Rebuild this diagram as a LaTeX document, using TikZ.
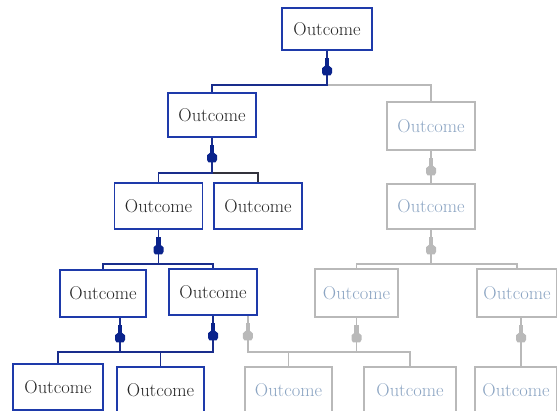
\documentclass[tikz,border=0pt]{standalone}
\usetikzlibrary{calc}

\definecolor{boxblue}{RGB}{30,58,170}
\definecolor{lineblue}{RGB}{25,45,140}
\definecolor{plugblue}{RGB}{10,35,140}
\definecolor{offgray}{RGB}{185,185,185}
\definecolor{offtext}{RGB}{140,165,195}
\definecolor{darkline}{RGB}{50,50,60}

\tikzset{
  outc/.style={draw=boxblue, line width=1.7pt, fill=white, inner sep=0pt,
    minimum width=88pt, minimum height=46pt,
    font=\fontsize{18.5}{22}\selectfont, text=black!85},
  outcoff/.style={outc, draw=offgray, text=offtext},
  link/.style={lineblue, line width=1.6pt},
  linkoff/.style={offgray, line width=1.6pt},
  plug/.pic={
    \fill (-2.2,7) rectangle (2.2,15.5);
    \fill (-2.2,15) -- (-5,17.5) -- (-5,22) -- (-3.5,24.5) -- (3.5,24.5) -- (5,22) -- (5,17.5) -- (2.2,15) -- cycle;
  }
}

\begin{document}
\begin{tikzpicture}[x=1pt, y=-1pt]
  \useasboundingbox (0,0) rectangle (557,410);
  \clip (0,0) rectangle (557,410);

  % 段の高さ (横線)
  \coordinate (y1) at (0,85);
  \coordinate (y2) at (0,173);
  \coordinate (y3) at (0,264);
  \coordinate (y4) at (0,352);

  % 有効な Outcome (青)
  \node[outc, minimum width=90pt, minimum height=42pt] (A) at (327,29) {Outcome};
  \node[outc, minimum height=44pt] (B) at (212,115) {Outcome};
  \node[outc] (C) at (158.5,206) {Outcome};
  \node[outc] (D) at (258,206) {Outcome};
  \node[outc, minimum width=86pt, minimum height=47pt] (E) at (103,293.5) {Outcome};
  \node[outc] (F) at (213,292) {Outcome};
  \node[outc, minimum width=90pt] (G) at (58,387) {Outcome};
  \node[outc, minimum width=87pt] (H) at (160.5,390) {Outcome};

  % 無効な Outcome (灰色)
  \node[outcoff, minimum height=48pt] (I) at (431,126) {Outcome};
  \node[outcoff, minimum height=45pt] (J) at (431,206.5) {Outcome};
  \node[outcoff, minimum width=83pt, minimum height=48pt] (K) at (356.5,293) {Outcome};
  \node[outcoff, minimum width=80pt, minimum height=48pt] (L) at (517,293) {Outcome};
  \node[outcoff, minimum width=87pt] (M) at (288.5,390) {Outcome};
  \node[outcoff, minimum width=92pt] (N) at (410,390) {Outcome};
  \node[outcoff, minimum width=82pt] (O) at (516,390) {Outcome};

  % 枝の始点
  \coordinate (Es) at ($(E.south)+(17,0)$);
  \coordinate (Fs) at ($(F.south east)+(-10,0)$);
  \coordinate (Ls) at ($(L.south)+(4,0)$);

  % A の下
  \draw[linkoff] (A.south |- y1) -| (I.north);
  \draw[link] (A.south) |- (B.north |- y1) -- (B.north);

  % B の下
  \draw[darkline, line width=1.6pt] (B.south |- y2) -| (D.north);
  \draw[link] (B.south) |- (C.north |- y2) -- (C.north);

  % I, J の下
  \draw[linkoff] (I.south) -- (J.north);
  \draw[linkoff] (J.south) |- (K.north |- y3) -- (K.north);
  \draw[linkoff] (J.south |- y3) -| (L.north);

  % C の下
  \draw[link] (C.south) |- (E.north |- y3) -- (E.north);
  \draw[link] (C.south |- y3) -| (F.north);

  % E, F の下
  \draw[link] (Es) |- (G.north |- y4) -- (G.north);
  \draw[link] (F.south) |- (G.north |- y4);
  \draw[link] (H.north |- y4) -- (H.north);

  % F, K の下 (灰色)
  \draw[linkoff] (Fs) |- (N.north |- y4) -- (N.north);
  \draw[linkoff] (K.south) -- (K.south |- y4);
  \draw[linkoff] (M.north |- y4) -- (M.north);

  % L の下
  \draw[linkoff] (Ls) -- (Ls |- O.north);

  % 接続記号
  \pic[plugblue] at (A.south) {plug};
  \pic[plugblue] at (B.south) {plug};
  \pic[plugblue] at (C.south) {plug};
  \pic[plugblue] at (Es) {plug};
  \pic[plugblue] at (F.south) {plug};
  \pic[offgray] at (I.south) {plug};
  \pic[offgray] at (J.south) {plug};
  \pic[offgray] at (Fs) {plug};
  \pic[offgray] at (K.south) {plug};
  \pic[offgray] at (Ls) {plug};

\end{tikzpicture}
\end{document}
